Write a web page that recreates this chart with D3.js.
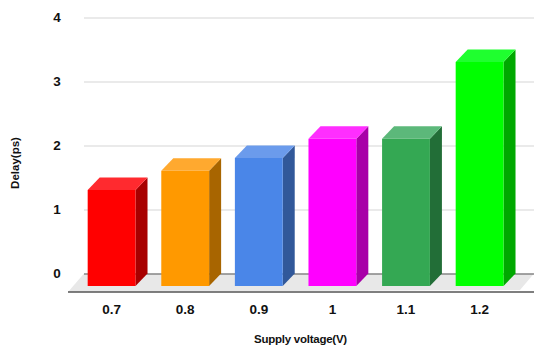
<!DOCTYPE html>
<html>
<head>
<meta charset="utf-8">
<script src="https://cdn.jsdelivr.net/npm/d3@7"></script>
<style>
html, body { margin: 0; padding: 0; background: #fff; }
svg { display: block; }
text { font-family: "Liberation Sans", Arial, sans-serif; font-weight: bold; fill: #111; }
</style>
</head>
<body>
<div id="graphSpace"></div>
<script>
var voltages = ["0.7", "0.8", "0.9", "1", "1.1", "1.2"];
var delays = [1.5, 1.8, 2, 2.3, 2.3, 3.5];
var yTicks = [0, 1, 2, 3, 4];
var frontColors = ["#ff0000", "#ff9900", "#4a86e8", "#ff00ff", "#34a853", "#00ff00"];
var topColors = ["#ff2a2f", "#ffa92f", "#6b9bec", "#ff2eff", "#5cb87a", "#1fff2f"];
var sideColors = ["#a80000", "#a86500", "#31589a", "#a800a8", "#226e37", "#00a800"];

var width = 550, height = 354;
// decalage de la face avant par rapport au plan du fond
var depthX = 12, depthY = 12.5;

var svg = d3.select("#graphSpace").append("svg")
    .attr("width", width)
    .attr("height", height);

var x = d3.scaleBand()
    .domain(voltages)
    .range([74.8, 516.4])
    .paddingInner(0.35)
    .paddingOuter(0.175);

var y = d3.scaleLinear().domain([0, 4]).range([273.5, 17.5]);

var gridLeft = 84, gridRight = 534;

// sol gris
svg.append("path")
    .attr("d", d3.line()([
        [gridLeft, y(0)], [gridRight, y(0)], [gridRight - 14, y(0) + 16.5], [gridLeft - 16, y(0) + 18.5]
    ]))
    .attr("fill", "#e8e8e8");

// grille + labels de l'axe y
var yAxis = svg.append("g")
    .attr("transform", "translate(" + gridLeft + ",0)")
    .call(d3.axisLeft(y).tickValues(yTicks).tickFormat(d3.format("d")).tickSize(-(gridRight - gridLeft)).tickPadding(21));
yAxis.select(".domain").remove();
yAxis.selectAll(".tick line")
    .attr("stroke", function (d) { return d === 0 ? "#555" : "#d6d6d6"; })
    .attr("stroke-width", 1.2);
yAxis.selectAll(".tick text")
    .attr("font-size", 13.5)
    .attr("text-anchor", "middle")
    .attr("dx", 0)
    .attr("x", -27);

// ligne de devant et labels de l'axe x
var xAxis = svg.append("g")
    .attr("transform", "translate(0," + (y(0) + 18.5) + ")")
    .call(d3.axisBottom(x).tickSize(0).tickPadding(12));
xAxis.select(".domain").remove();
xAxis.selectAll(".tick text").attr("font-size", 13.5);
svg.append("line")
    .attr("x1", gridLeft - 16).attr("x2", gridRight)
    .attr("y1", y(0) + 18.5).attr("y2", y(0) + 18.5)
    .attr("stroke", "#555").attr("stroke-width", 1.3);

// barres 3D
var bars = svg.selectAll(".bar")
    .data(voltages)
    .enter().append("g")
    .attr("class", "bar");

function barTop(i) { return y(delays[i]) + depthY; }

bars.append("path")
    .attr("fill", function (d, i) { return sideColors[i]; })
    .attr("d", function (d, i) {
        var r = x(d) + x.bandwidth();
        return d3.line()([[r, barTop(i)], [r + depthX, barTop(i) - depthY], [r + depthX, y(0)], [r, y(0) + depthY]]);
    });

bars.append("path")
    .attr("fill", function (d, i) { return topColors[i]; })
    .attr("d", function (d, i) {
        var l = x(d), r = l + x.bandwidth();
        return d3.line()([[l, barTop(i)], [l + depthX, barTop(i) - depthY], [r + depthX, barTop(i) - depthY], [r, barTop(i)]]);
    });

bars.append("rect")
    .attr("fill", function (d, i) { return frontColors[i]; })
    .attr("x", function (d) { return x(d); })
    .attr("width", x.bandwidth())
    .attr("y", function (d, i) { return barTop(i); })
    .attr("height", function (d, i) { return y(0) + depthY - barTop(i); });

// titres
svg.append("text")
    .attr("x", 300.5).attr("y", 343)
    .attr("text-anchor", "middle")
    .attr("font-size", 11.5)
    .attr("letter-spacing", -0.25)
    .text("Supply voltage(V)");

svg.append("text")
    .attr("transform", "translate(19,163) rotate(-90)")
    .attr("text-anchor", "middle")
    .attr("font-size", 11.5)
    .text("Delay(ps)");
</script>
</body>
</html>
